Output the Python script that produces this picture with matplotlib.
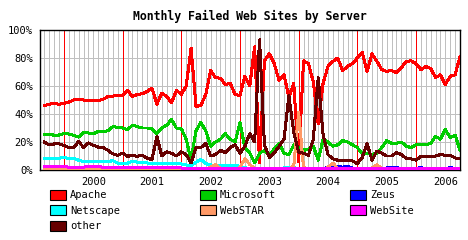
import matplotlib
matplotlib.use("Agg")
import matplotlib.pyplot as plt
from matplotlib.patches import Rectangle

# monthly survey, first month is Sep 1999
start_year, start_month = 1999, 9

apache = [46, 47, 47.5, 47, 47.5, 48.5, 50, 50.5, 50, 49.5, 49.5, 49.5, 50.5, 52.5, 52.8, 53.5,
          53, 57, 52.5, 54, 54.5, 56, 58.5, 47, 55, 52.5, 48, 57, 54, 60, 87, 45.5, 46, 54, 71,
          66, 65.5, 61, 62, 54, 53, 67, 60, 88, 5, 78, 83, 76, 64, 68, 52, 62, 6, 78, 76, 63, 33,
          62, 74, 77.6, 80, 71, 74, 76, 80, 84, 70.5, 83, 77.6, 71.7, 70.5, 71, 69.5, 73, 77.6,
          78, 76, 71.7, 74, 72.5, 66, 68, 61, 67, 68, 81]
microsoft = [25.2, 25.7, 24.8, 25, 26, 25.7, 24.8, 23.5, 27, 26.5, 25.7, 27.6, 27.6, 28, 31, 30.5,
             30, 28.8, 32, 31, 30, 30, 29.5, 26, 30, 32, 36, 30, 29.5, 22, 7, 28, 34, 28, 17, 20,
             22, 26, 22, 20, 34, 16, 12, 5, 12, 14, 11, 15, 19, 12, 11, 18, 16, 14, 15, 17, 7, 22,
             20, 17, 18, 21, 20, 18, 16, 12, 12, 11, 12, 16, 21, 19, 19, 20, 17, 16, 18, 18, 18,
             19, 24, 22, 29, 23, 25, 14]
zeus = [0.2, 0.2, 0.2, 0.2, 0.2, 0.2, 0.2, 0.2, 0.5, 0.5, 0.5, 0.5, 0.5, 0.5, 0.5, 0.5, 0.5, 0.5,
        0.5, 0.3, 0.3, 0.3, 0.3, 0.3, 0.3, 0.3, 0.3, 0.3, 0.3, 0.3, 0.3, 0.3, 0.3, 0.3, 0.3, 0.3,
        0.3, 0.3, 0.3, 0.3, 0.3, 0.3, 0.5, 0.5, 0.5, 0.5, 0.5, 0.5, 0.5, 0.5, 0.5, 0.5, 0.5, 0.5,
        0.5, 0.5, 0.5, 1, 2, 2.5, 2.5, 2, 2.5, 1.5, 0.5, 0.5, 0.5, 0.5, 0.5, 0.5, 1.5, 1.8, 2,
        0.5, 0.5, 0.5, 0.5, 2, 0.5, 0.5, 0.5, 0.5, 0.5, 2, 0.5, 0.5]
netscape = [8, 8, 8, 8.5, 8.8, 8.3, 8.3, 7, 6, 6, 6, 6, 6, 6, 6.7, 5, 4.8, 4.8, 6.4, 5.5, 5.2, 5,
            4.8, 4.8, 4.5, 4.3, 4.3, 4.3, 4.3, 3.6, 3.2, 5.5, 7.6, 4.5, 3.6, 3.3, 3, 3, 3, 3, 2.8,
            1.5, 1.2, 1, 0.8, 0.8, 0.8, 0.8, 1, 1.5, 1.5, 1.8, 0.8, 0.8, 0.8, 0.8, 0.8, 0.8, 0.8,
            0.8, 0.8, 0.8, 0.8, 0.8, 0.8, 0.8, 0.8, 0.8, 0.8, 0.8, 0.8, 0.8, 0.8, 0.8, 0.8, 0.8,
            0.8, 0.8, 0.8, 0.8, 0.8, 0.8, 0.8, 0.8, 0.8, 0.8]
webstar = [0.3, 0.3, 0.3, 0.3, 0.3, 0.3, 0.3, 0.3, 0.3, 0.3, 0.3, 0.3, 0.3, 0.3, 0.3, 0.3, 0.3,
           0.3, 0.3, 0.3, 0.3, 0.3, 0.3, 0.3, 0.3, 0.3, 0.3, 0.3, 0.3, 0.3, 0.3, 0.3, 0.3, 0.3, 2,
           3.8, 1, 0.3, 0.3, 0.3, 2, 8, 4, 1, 0.3, 0.3, 0.3, 0.3, 0.3, 0.3, 0.3, 3, 41, 2, 0.3,
           0.3, 0.3, 0.3, 2, 5, 1, 0.3, 0.3, 0.3, 0.3, 0.3, 0.3, 1.5, 3.8, 1, 0.3, 0.3, 0.3, 0.3,
           0.3, 0.3, 0.3, 0.3, 0.3, 0.3, 0.3, 0.3, 0.3, 0.3, 0.3, 0.3]
website = [2.5, 2.5, 2.5, 2.5, 2.5, 2, 2, 2, 2, 2.5, 2.5, 2.5, 2, 2, 2, 2, 2, 1.5, 1.5, 1.5, 1.5,
           1.5, 1.5, 1.5, 1.5, 1.5, 1.5, 1.5, 1.5, 0.8, 0.8, 0.8, 0.8, 0.8, 0.8, 0.8, 0.8, 0.8,
           0.8, 0.8, 0.8, 0.8, 0.8, 0.8, 0.8, 0.8, 0.8, 0.8, 0.8, 0.8, 0.8, 0.8, 0.8, 0.8, 0.8,
           0.8, 0.8, 0.8, 0.8, 0.8, 0.8, 0.8, 0.8, 0.8, 0.8, 0.8, 0.8, 0.8, 0.8, 0.8, 0.8, 0.8,
           0.8, 0.8, 0.8, 0.8, 0.8, 0.8, 0.8, 0.8, 0.8, 0.8, 0.8, 0.8, 0.8, 0.8]
other = [19.8, 18, 18.6, 18.6, 17.6, 16, 16, 20.5, 16, 19.3, 17.6, 16.4, 16, 14, 11.5, 10.5, 12,
         9.8, 10.5, 9.8, 10.5, 8.5, 7.4, 24, 10, 13, 12, 10, 13, 11, 5, 16, 16, 19, 10, 11, 14,
         12.5, 16, 18, 12, 17, 26, 20, 93, 18, 9, 12, 17, 22, 53, 27, 12.9, 12, 10.5, 22, 66, 25,
         11, 8, 7, 6.5, 7, 6.5, 4.5, 9, 19, 7, 13.5, 12, 10, 10, 12.5, 11, 8.5, 8, 7, 9.8, 9.8,
         9.5, 10, 11, 10.5, 10.5, 8.6, 8]

names = ["Apache", "Microsoft", "Zeus", "Netscape", "WebSTAR", "WebSite", "other"]
colors = ["#ff0000", "#00cc00", "#0000ff", "#00ffff", "#ff9966", "#ff00ff", "#660000"]
series = [apache, microsoft, zeus, netscape, webstar, website, other]

n = len(apache)
x = list(range(n))
months = [(start_month - 1 + i) % 12 + 1 for i in x]
years = [start_year + (start_month - 1 + i) // 12 for i in x]

W, H = 468, 240
fig = plt.figure(figsize=(W / 100, H / 100), dpi=100)
fig.patch.set_facecolor("white")
ax = fig.add_axes([40 / W, 70 / H, 420 / W, 140 / H])

# grid: every month grey, january red
for i in x:
    if months[i] == 1:
        ax.axvline(i, color="#ff0000", lw=0.72, zorder=1, antialiased=False)
    else:
        ax.axvline(i, color="#c0c0c0", lw=0.72, zorder=0, antialiased=False)
for v in [20, 40, 60, 80]:
    ax.axhline(v, color="#c0c0c0", lw=0.72, zorder=0, antialiased=False)

for vals, c in zip(series, colors):
    ax.plot(x, vals, color=c, lw=1.44, zorder=3, antialiased=False)

ax.set_xlim(-0.9, 85)
ax.set_ylim(0, 100)
mono = "DejaVu Sans Mono"
ax.set_yticks([0, 20, 40, 60, 80, 100])
ax.set_yticklabels([f"{v}%" for v in [0, 20, 40, 60, 80, 100]], fontfamily=mono, fontsize=7.5)
mid = [i for i in x if months[i] == 7]
ax.set_xticks(mid)
ax.set_xticklabels([str(years[i]) for i in mid], fontfamily=mono, fontsize=7.5)
ax.tick_params(length=0, pad=5)
for s in ax.spines.values():
    s.set_linewidth(1.0)
    s.set_color("black")

fig.text(250 / W, 1 - 16 / H, "Monthly Failed Web Sites by Server", ha="center", va="center",
         fontfamily=mono, fontweight="bold", fontsize=8.3)

# legend in three columns, row-wise
for k, (name, c) in enumerate(zip(names, colors)):
    col, row = k % 3, k // 3
    px = 50 + 150 * col
    py = 190 + 15.3 * row
    fig.add_artist(Rectangle((px / W, 1 - (py + 10) / H), 16 / W, 10 / H, facecolor=c,
                             edgecolor="black", lw=0.8, transform=fig.transFigure))
    fig.text((px + 20) / W, 1 - (py + 5.5) / H, name, ha="left", va="center",
             fontfamily=mono, fontsize=7.5)

fig.savefig("out.png", dpi=100)
